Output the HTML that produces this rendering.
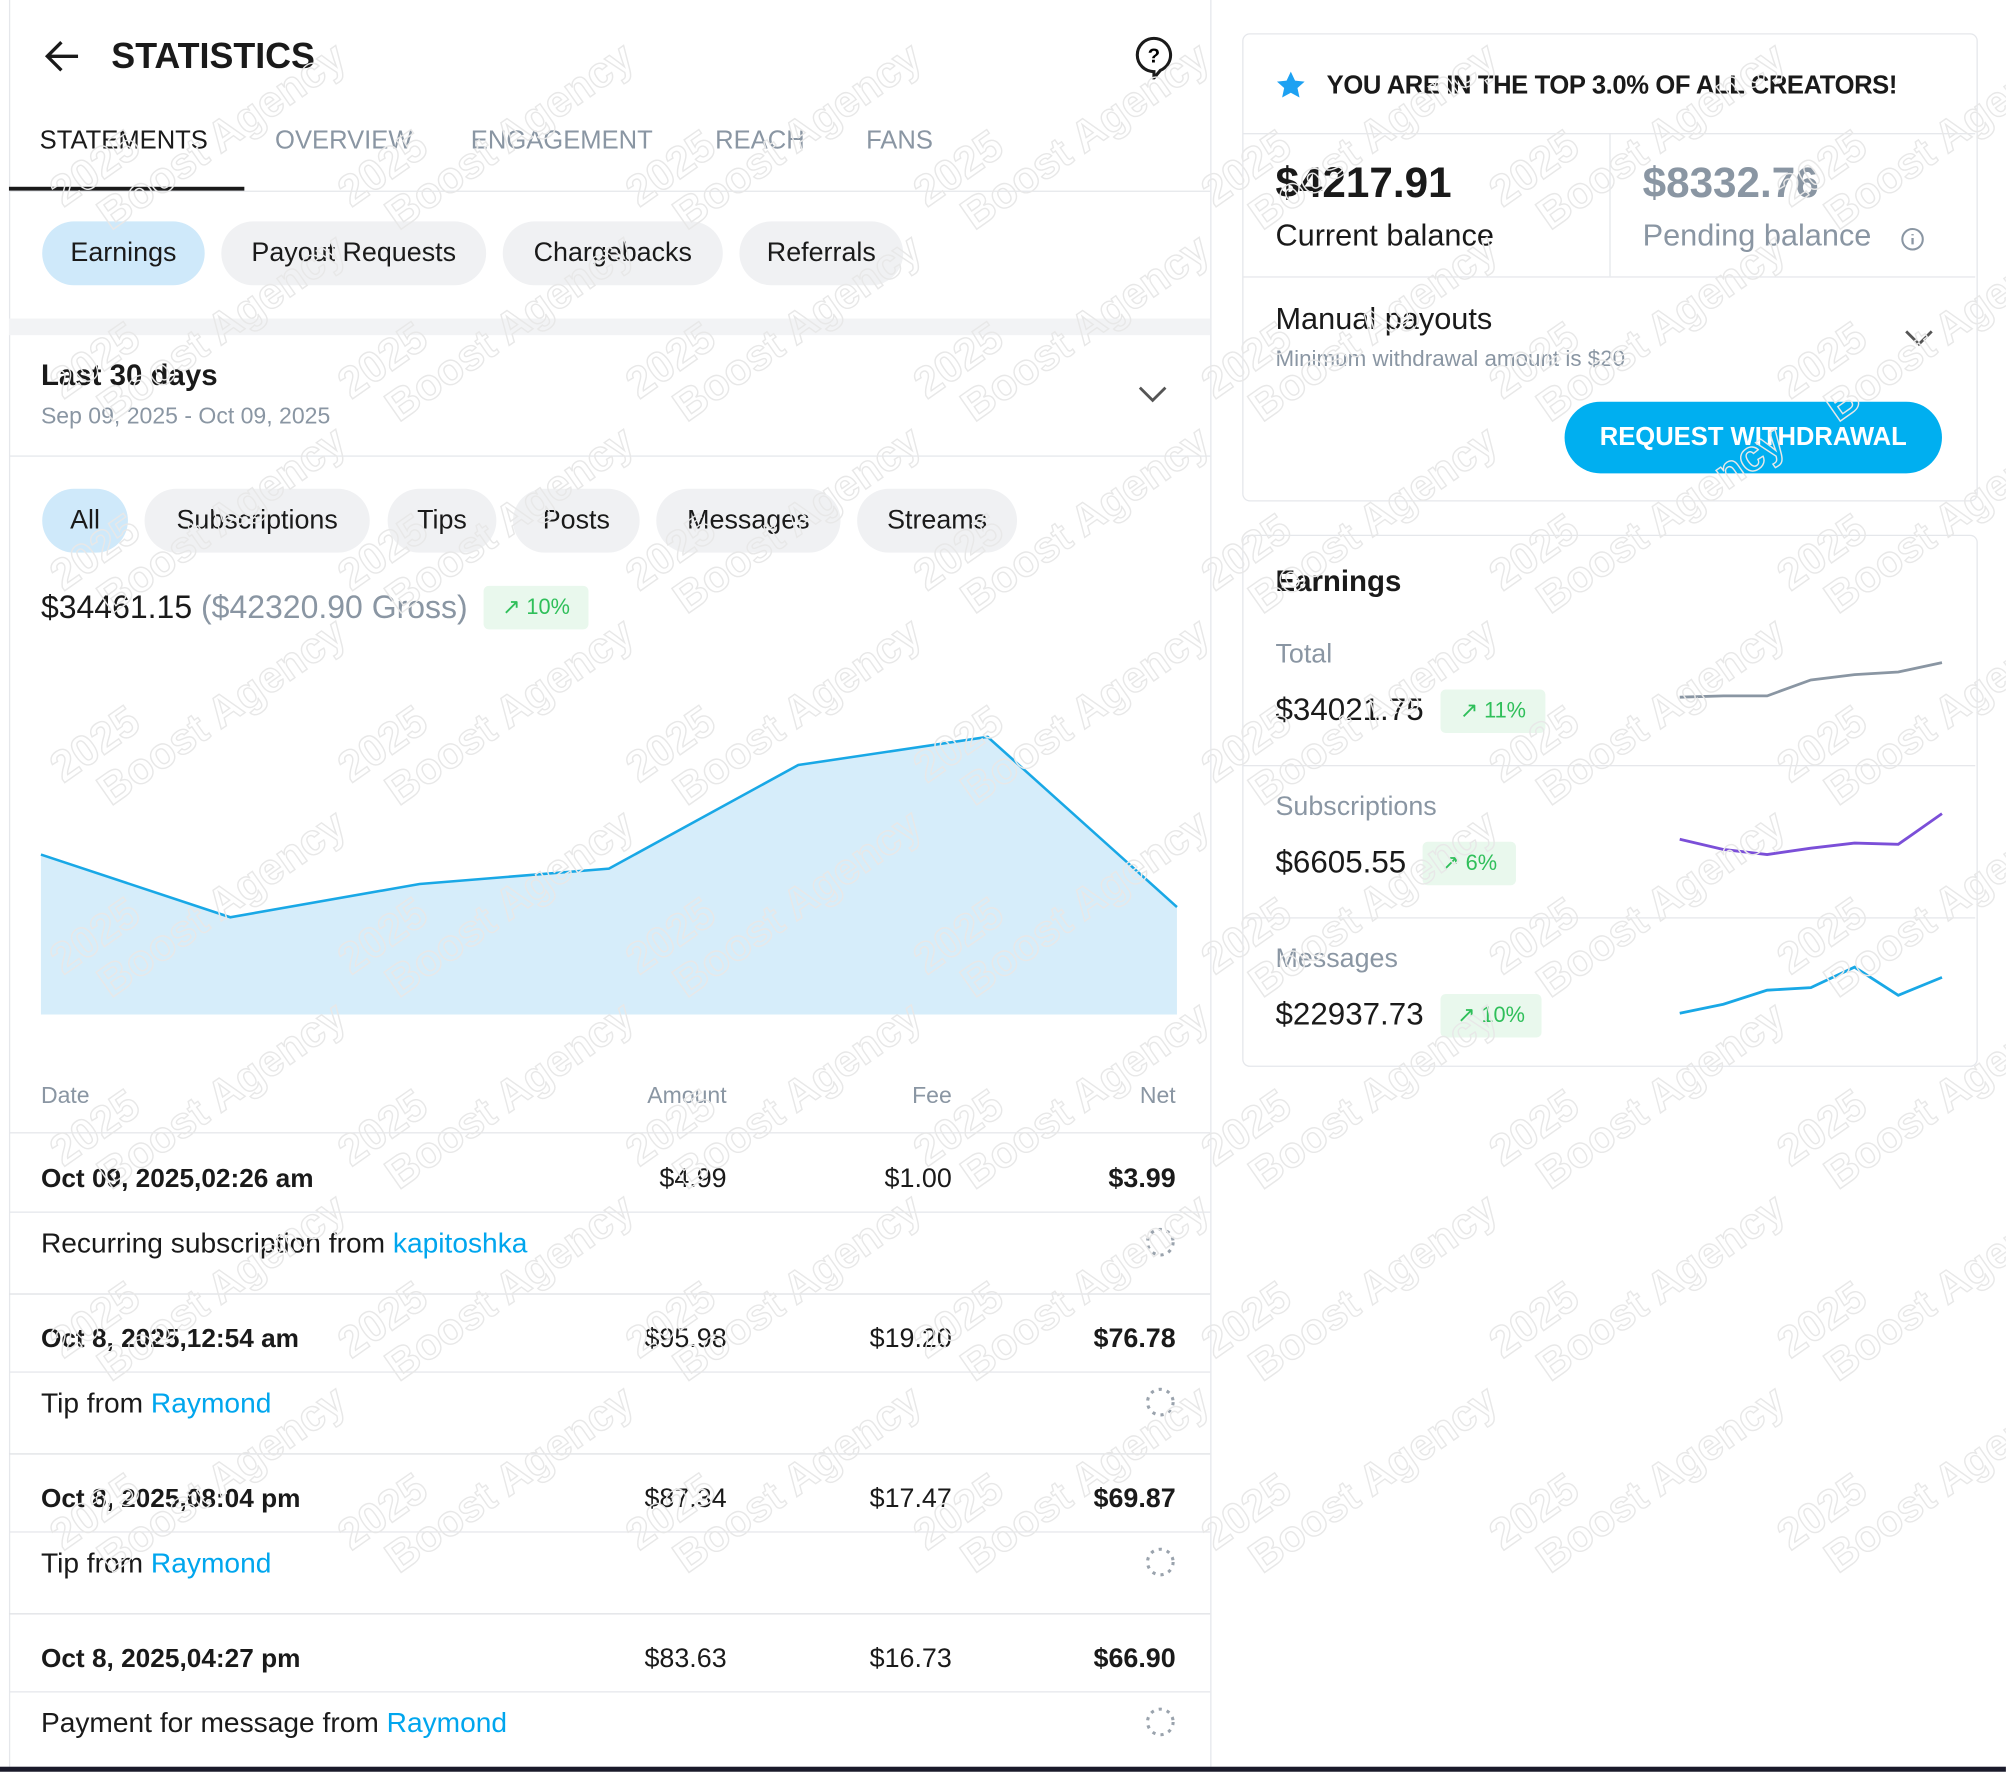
<!DOCTYPE html>
<html><head><meta charset="utf-8">
<style>
html,body{margin:0;padding:0;background:#fff;width:2006px;height:1772px;overflow:hidden}
#wrap{position:absolute;left:0;top:0;width:1568px;height:1385px;overflow:hidden;transform:scale(1.2793);transform-origin:0 0;font-family:"Liberation Sans",sans-serif;color:#1a1a1a}
.a{position:absolute;white-space:nowrap}
.pill{position:absolute;height:50px;border-radius:25px;background:#f0f1f3;font-size:21px;line-height:50px;text-align:center;color:#1a1a1a}
.pill.on{background:#cfe9fa}
.tab{position:absolute;top:99px;font-size:20px;color:#8a96a3}
.hl{position:absolute;height:1px;background:#e5e7eb}
.g{color:#8a96a3}
.badge{position:absolute;height:34px;line-height:34px;background:#e9f8ed;color:#2fbf5a;font-size:17px;border-radius:4px;text-align:center}
.lnk{color:#00a6ee}
.r{position:absolute;text-align:right;font-size:21px}
</style></head><body>
<div id="wrap">
<div style="position:absolute;left:7px;top:0;width:1px;height:1381px;background:#e5e7eb"></div>
<div style="position:absolute;left:946px;top:0;width:1px;height:1381px;background:#e5e7eb"></div>
<svg class="a" style="left:34px;top:30px" width="30" height="28"><path d="M27 14H4M14 3L3 14l11 11" stroke="#1a1a1a" stroke-width="2.6" fill="none"/></svg>
<div class="a" style="left:87px;top:28px;font-size:28px;font-weight:bold">STATISTICS</div>
<svg class="a" style="left:886px;top:28px" width="32" height="34"><path d="M16 2a13 13 0 1 0 0 26l0 5l5-6a13 13 0 0 0-5-25z" stroke="#1a1a1a" stroke-width="2.4" fill="none"/><text x="16" y="21" font-size="16" font-weight="bold" text-anchor="middle" font-family="Liberation Sans">?</text></svg>
<div class="tab" style="left:31px;color:#1a1a1a">STATEMENTS</div>
<div class="tab" style="left:215px">OVERVIEW</div>
<div class="tab" style="left:368px">ENGAGEMENT</div>
<div class="tab" style="left:559px">REACH</div>
<div class="tab" style="left:677px">FANS</div>
<div class="hl" style="left:7px;top:149px;width:939px"></div>
<div style="position:absolute;left:7px;top:146px;width:184px;height:3px;background:#1a1a1a"></div>
<div class="pill on" style="left:33px;top:173px;width:127px">Earnings</div>
<div class="pill" style="left:173px;top:173px;width:207px">Payout Requests</div>
<div class="pill" style="left:393px;top:173px;width:172px">Chargebacks</div>
<div class="pill" style="left:578px;top:173px;width:128px">Referrals</div>
<div style="position:absolute;left:7px;top:249px;width:939px;height:13px;background:#f2f3f5"></div>
<div class="a" style="left:32px;top:280px;font-size:23px;font-weight:bold">Last 30 days</div>
<div class="a g" style="left:32px;top:315px;font-size:18px">Sep 09, 2025 - Oct 09, 2025</div>
<svg class="a" style="left:889px;top:300px" width="24" height="16"><path d="M2 3l10 10L22 3" stroke="#555" stroke-width="2.2" fill="none"/></svg>
<div class="hl" style="left:7px;top:356px;width:939px"></div>
<div class="pill on" style="left:33px;top:382px;width:67px">All</div>
<div class="pill" style="left:113px;top:382px;width:176px">Subscriptions</div>
<div class="pill" style="left:303px;top:382px;width:85px">Tips</div>
<div class="pill" style="left:401px;top:382px;width:99px">Posts</div>
<div class="pill" style="left:513px;top:382px;width:144px">Messages</div>
<div class="pill" style="left:670px;top:382px;width:125px">Streams</div>
<div class="a" style="left:32px;top:461px;font-size:25px">$34461.15 <span class="g">($42320.90 Gross)</span></div>
<div class="badge" style="left:378px;top:458px;width:82px">↗ 10%</div>
<svg class="a" style="left:0;top:0" width="946" height="800" id="chart"></svg>
<div class="a g" style="left:32px;top:846px;font-size:18px">Date</div>
<div class="r g" style="left:468px;width:100px;top:846px;font-size:18px">Amount</div>
<div class="r g" style="left:644px;width:100px;top:846px;font-size:18px">Fee</div>
<div class="r g" style="left:819px;width:100px;top:846px;font-size:18px">Net</div>
<div class="hl" style="left:7px;top:885px;width:939px"></div>
<div id="rows"></div>
<div style="position:absolute;left:0;top:1381px;width:1568px;height:4px;background:#1a1a2a"></div>

<div style="position:absolute;left:971px;top:26px;width:573px;height:364px;border:1px solid #e5e7eb;border-radius:6px"></div>
<svg class="a" style="left:997px;top:55px" width="24" height="23"><path d="M12 1l3.3 7 7.5.8-5.6 5 1.6 7.4L12 17.5 5.2 21.2l1.6-7.4-5.6-5 7.5-.8z" fill="#1da1f2"/></svg>
<div class="a" style="left:1037px;top:56px;font-size:20px;font-weight:bold;letter-spacing:-0.3px">YOU ARE IN THE TOP 3.0% OF ALL CREATORS!</div>
<div class="hl" style="left:972px;top:104px;width:572px"></div>
<div class="a" style="left:997px;top:124px;font-size:33px;font-weight:bold">$4217.91</div>
<div class="a" style="left:997px;top:171px;font-size:24px">Current balance</div>
<div style="position:absolute;left:1258px;top:104px;width:1px;height:112px;background:#e5e7eb"></div>
<div class="a g" style="left:1284px;top:124px;font-size:33px;font-weight:bold">$8332.76</div>
<div class="a g" style="left:1284px;top:171px;font-size:24px">Pending balance</div>
<svg class="a" style="left:1485px;top:177px" width="20" height="20"><circle cx="10" cy="10" r="8" stroke="#8a96a3" stroke-width="1.6" fill="none"/><path d="M10 9v5M10 6v1" stroke="#8a96a3" stroke-width="1.8"/></svg>
<div class="hl" style="left:972px;top:216px;width:572px"></div>
<div class="a" style="left:997px;top:236px;font-size:24px">Manual payouts</div>
<div class="a g" style="left:997px;top:270px;font-size:17.5px">Minimum withdrawal amount is $20</div>
<svg class="a" style="left:1488px;top:256px" width="24" height="16"><path d="M2 3l10 10L22 3" stroke="#555" stroke-width="2.2" fill="none"/></svg>
<div class="a" style="left:1223px;top:314px;width:295px;height:56px;border-radius:28px;background:#00aff0;color:#fff;font-size:20px;font-weight:bold;text-align:center;line-height:56px">REQUEST WITHDRAWAL</div>

<div style="position:absolute;left:971px;top:418px;width:573px;height:414px;border:1px solid #e5e7eb;border-radius:6px"></div>
<div class="a" style="left:997px;top:441px;font-size:23px;font-weight:bold">Earnings</div>
<div class="a g" style="left:997px;top:500px;font-size:21px">Total</div>
<div class="a" style="left:997px;top:542px;font-size:24.5px">$34021.75</div>
<div class="badge" style="left:1126px;top:539px;width:82px">↗ 11%</div>
<div class="hl" style="left:972px;top:598px;width:572px"></div>
<div class="a g" style="left:997px;top:619px;font-size:21px">Subscriptions</div>
<div class="a" style="left:997px;top:661px;font-size:24.5px">$6605.55</div>
<div class="badge" style="left:1112px;top:658px;width:73px">↗ 6%</div>
<div class="hl" style="left:972px;top:717px;width:572px"></div>
<div class="a g" style="left:997px;top:738px;font-size:21px">Messages</div>
<div class="a" style="left:997px;top:780px;font-size:24.5px">$22937.73</div>
<div class="badge" style="left:1126px;top:777px;width:79px">↗ 10%</div>
<svg class="a" style="left:0;top:0" width="1568" height="820" id="spark"></svg>

<svg class="a" id="wm" style="left:0;top:0;pointer-events:none;overflow:hidden" width="1568" height="1380"></svg>
</div>
<script>
const NS='http://www.w3.org/2000/svg';
const days=['Sep 09','Sep 14','Sep 19','Sep 24','Sep 29','Oct 04','Oct 09'];
const earnings=[125,76,102,114,195,217,84];
const x=i=>32+i*(888/(days.length-1));
const y=v=>793-v*1.0;
const c=document.getElementById('chart');
let pts=earnings.map((v,i)=>x(i)+','+y(v));
const area=document.createElementNS(NS,'polygon');
area.setAttribute('points',x(0)+',793 '+pts.join(' ')+' '+x(days.length-1)+',793');
area.setAttribute('fill','#d6edfa');


c.appendChild(area);
const line=document.createElementNS(NS,'polyline');
line.setAttribute('points',pts.join(' '));
line.setAttribute('fill','none');line.setAttribute('stroke','#19a8e6');line.setAttribute('stroke-width','2');


c.appendChild(line);

const sparkTotal=[1,2,2,14,18,20,27];
const sparkSubs=[12,4,0,5,9,8,32];
const sparkMsgs=[0,7,18,20,36,14,28];
const sp=document.getElementById('spark');
function spark(vals,top,bot,color,name){
  const mn=Math.min(...vals),mx=Math.max(...vals);
  const p=vals.map((v,i)=>(1313+i*205/(vals.length-1))+','+(bot-(v-mn)/(mx-mn)*(bot-top)));
  const l=document.createElementNS(NS,'polyline');
  l.setAttribute('points',p.join(' '));l.setAttribute('fill','none');l.setAttribute('stroke',color);l.setAttribute('stroke-width','2.2');
  
  
  sp.appendChild(l);
}
spark(sparkTotal,518,545,'#8a96a3','total-sparkline');
spark(sparkSubs,636,668,'#7b4fd8','subscriptions-sparkline');
spark(sparkMsgs,756,792,'#19a8e6','messages-sparkline');

const rowDates=['Oct 09, 2025,02:26 am','Oct 8, 2025,12:54 am','Oct 8, 2025,08:04 pm','Oct 8, 2025,04:27 pm'];
const rowAmt=['$4.99','$95.98','$87.34','$83.63'];
const rowFee=['$1.00','$19.20','$17.47','$16.73'];
const rowNet=['$3.99','$76.78','$69.87','$66.90'];
const rowDesc=['Recurring subscription from ','Tip from ','Tip from ','Payment for message from '];
const rowUser=['kapitoshka','Raymond','Raymond','Raymond'];
let h='';
rowDates.forEach((d,i)=>{
  const t=885+i*125;
  h+=`<div class="a" style="left:32px;top:${t+25}px;font-size:20.5px;font-weight:bold">${d}</div>`;
  h+=`<div class="r" style="left:468px;width:100px;top:${t+25}px">${rowAmt[i]}</div>`;
  h+=`<div class="r" style="left:644px;width:100px;top:${t+25}px">${rowFee[i]}</div>`;
  h+=`<div class="r" style="left:819px;width:100px;top:${t+25}px;font-weight:bold">${rowNet[i]}</div>`;
  h+=`<div class="hl" style="left:7px;top:${t+62}px;width:939px"></div>`;
  h+=`<div class="a" style="left:32px;top:${t+74}px;font-size:22px">${rowDesc[i]}<span class="lnk">${rowUser[i]}</span></div>`;
  h+=`<svg class="a" style="left:895px;top:${t+74}px" width="24" height="24"><circle cx="12" cy="12" r="10" stroke="#9aa3ad" stroke-width="2.4" fill="none" stroke-dasharray="2.5 4"/></svg>`;
  if(i<3) h+=`<div class="hl" style="left:7px;top:${t+126}px;width:939px;background:#dfe1e5"></div>`;
});
document.getElementById('rows').innerHTML=h;

const wm=document.getElementById('wm');
for(let gy=0;gy<1200;gy+=150){
  for(let gx=0;gx<1400;gx+=225){
    const g=document.createElementNS(NS,'g');
    
    
    g.setAttribute('transform',`translate(${gx+135},${gy+110}) rotate(-35)`);
    g.setAttribute('font-family','Liberation Sans');
    g.setAttribute('font-weight','bold');
    g.setAttribute('font-size','34');
    g.setAttribute('fill','none');
    g.setAttribute('stroke','#e8e8e8');
    g.setAttribute('stroke-width','1.1');
    g.innerHTML='<text x="-100" y="-6">2025</text><text x="-80" y="30">Boost Agency</text>';
    wm.appendChild(g);
  }
}
</script>
</body></html>
